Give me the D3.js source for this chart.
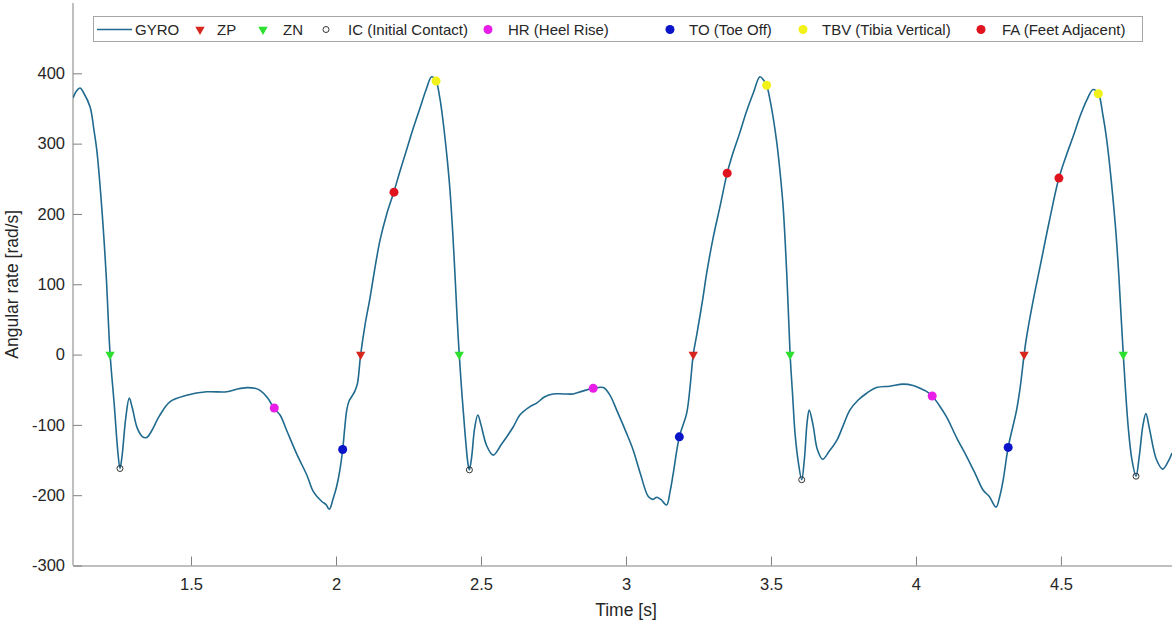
<!DOCTYPE html>
<html>
<head>
<meta charset="utf-8">
<script src="https://cdn.jsdelivr.net/npm/d3@7"></script>
<style>
body { margin: 0; background: #fff; }
svg text { font-family: "Liberation Sans", Arial, sans-serif; fill: #262626; }
</style>
</head>
<body>
<svg width="1172" height="621"></svg>
<script>
// Gyroscope angular rate with gait events

// gyro trace (time in s, rate in rad/s)
const time = [1.093, 1.105, 1.117, 1.13, 1.152, 1.165, 1.175, 1.192, 1.207, 1.221, 1.235, 1.248, 1.255, 1.262, 1.275, 1.287, 1.297, 1.315, 1.333, 1.347, 1.365, 1.39, 1.428, 1.485, 1.554, 1.623, 1.66, 1.692, 1.72, 1.738, 1.765, 1.787, 1.807, 1.83, 1.864, 1.9, 1.922, 1.951, 1.965, 1.977, 1.99, 2.002, 2.013, 2.023, 2.03, 2.037, 2.045, 2.054, 2.065, 2.074, 2.085, 2.1, 2.117, 2.135, 2.152, 2.175, 2.2, 2.22, 2.244, 2.265, 2.29, 2.31, 2.33, 2.345, 2.358, 2.37, 2.383, 2.393, 2.403, 2.41, 2.418, 2.425, 2.435, 2.445, 2.455, 2.46, 2.468, 2.478, 2.489, 2.5, 2.52, 2.542, 2.57, 2.611, 2.634, 2.669, 2.692, 2.72, 2.749, 2.785, 2.818, 2.85, 2.887, 2.922, 2.945, 2.968, 3.0, 3.025, 3.05, 3.077, 3.092, 3.106, 3.12, 3.14, 3.152, 3.163, 3.184, 3.209, 3.22, 3.232, 3.244, 3.264, 3.278, 3.3, 3.324, 3.349, 3.37, 3.393, 3.415, 3.439, 3.462, 3.475, 3.485, 3.5, 3.519, 3.53, 3.542, 3.555, 3.566, 3.575, 3.583, 3.595, 3.606, 3.615, 3.625, 3.632, 3.645, 3.66, 3.678, 3.7, 3.727, 3.75, 3.772, 3.8, 3.83, 3.864, 3.91, 3.956, 3.99, 4.014, 4.035, 4.056, 4.08, 4.106, 4.14, 4.175, 4.205, 4.232, 4.253, 4.276, 4.29, 4.301, 4.318, 4.347, 4.36, 4.373, 4.38, 4.402, 4.428, 4.46, 4.493, 4.52, 4.542, 4.565, 4.589, 4.611, 4.629, 4.645, 4.658, 4.687, 4.7, 4.715, 4.732, 4.745, 4.759, 4.77, 4.783, 4.793, 4.805, 4.83, 4.851, 4.87, 4.883]
const gyro = [365, 375, 379, 372, 352, 320, 291, 210, 116, 0, -70, -140, -162, -145, -90, -62, -75, -105, -117, -118, -108, -88, -67, -58, -53, -53, -49, -47, -48, -51, -62, -77, -86, -108, -141, -172, -195, -209, -213, -220, -205, -188, -165, -135, -105, -79, -66, -60, -52, -41, 0, 42, 80, 125, 163, 200, 232, 260, 292, 320, 351, 376, 395, 389, 365, 329, 280, 234, 170, 116, 50, 0, -60, -112, -155, -164, -145, -105, -86, -100, -130, -143, -128, -103, -86, -74, -69, -60, -56, -56, -56, -52, -48, -47, -58, -79, -110, -136, -170, -202, -206, -203, -206, -214, -195, -169, -117, -84, -50, 0, 28, 77, 115, 165, 210, 258, 288, 316, 345, 372, 395, 390, 383, 355, 305, 265, 210, 110, 0, -60, -112, -155, -178, -150, -95, -79, -100, -135, -149, -138, -122, -100, -79, -65, -55, -47, -45, -42, -44, -48, -52, -59, -72, -89, -118, -145, -170, -193, -202, -217, -200, -178, -132, -79, -45, 0, 21, 72, 125, 190, 251, 285, 310, 338, 362, 377, 371, 340, 305, 187, 110, 0, -103, -150, -173, -145, -100, -84, -105, -150, -163, -152, -140]

// gait events
const zpTime = [2.085, 3.232, 4.373]
const zpRate = [0, 0, 0]
const znTime = [1.221, 2.425, 3.566, 4.715]
const znRate = [0, 0, 0, 0]
const icTime = [1.255, 2.46, 3.606, 4.759]
const icRate = [-162, -164, -178, -173]
const hrTime = [1.787, 2.887, 4.056]
const hrRate = [-76, -48, -59]
const toTime = [2.023, 3.184, 4.318]
const toRate = [-135, -117, -132]
const tbvTime = [2.345, 3.485, 4.629]
const tbvRate = [389, 383, 371]
const faTime = [2.2, 3.349, 4.493]
const faRate = [231, 258, 251]

const xTicks = [1.5, 2, 2.5, 3, 3.5, 4, 4.5]
const yTicks = [-300, -200, -100, 0, 100, 200, 300, 400]
const legendLabels = ['GYRO', 'ZP', 'ZN', 'IC (Initial Contact)', 'HR (Heel Rise)', 'TO (Toe Off)', 'TBV (Tibia Vertical)', 'FA (Feet Adjacent)']

const margin = {top: 3, right: 0, bottom: 55.5, left: 73}
const svg = d3.select('svg')
const W = +svg.attr('width') - margin.left - margin.right
const H = +svg.attr('height') - margin.top - margin.bottom

const lineColor = '#1f6a8e'

var x = d3.scaleLinear().domain([1.093, 4.883]).range([0, W])
var y = d3.scaleLinear().domain([-300, 500]).range([H, 0])

var g = svg.append('g').attr('transform', 'translate(' + margin.left + ',' + margin.top + ')')

g.append('clipPath').attr('id', 'clip')
	.append('rect').attr('width', W).attr('height', H)

// plain hyphen for negatives, like matlab
function fmt(d) { return String(d) }

// axes, ticks point inwards like matlab
var xAxis = g.append('g').attr('transform', 'translate(0,' + H + ')')
	.call(d3.axisBottom(x).tickValues(xTicks).tickFormat(fmt)
		.tickSizeInner(-9).tickSizeOuter(0).tickPadding(13))
var yAxis = g.append('g')
	.call(d3.axisLeft(y).tickValues(yTicks).tickFormat(fmt)
		.tickSizeInner(-9).tickSizeOuter(0).tickPadding(8))
// y axis line runs to the top of the frame
yAxis.select('.domain').attr('d', 'M0,' + H + 'V0')

svg.selectAll('.domain, .tick line').attr('stroke', '#808080').attr('stroke-width', 1)
svg.selectAll('.tick text').attr('font-size', '16.5px').attr('fill', '#262626')
	.attr('font-family', '"Liberation Sans", Arial, sans-serif')

g.append('text').attr('x', x(3)).attr('y', H + 50)
	.attr('text-anchor', 'middle').attr('font-size', '17.5px')
	.text('Time [s]')
g.append('text').attr('transform', 'translate(' + (-55) + ',' + (H / 2) + ') rotate(-90)')
	.attr('text-anchor', 'middle').attr('font-size', '17.5px')
	.text('Angular rate [rad/s]')

// the trace
var series = time.map(function(t, i) { return {x: t, y: gyro[i]} })
var line = d3.line()
	.x(function(d) { return x(d.x) })
	.y(function(d) { return y(d.y) })
	.curve(d3.curveCatmullRom.alpha(0.5))

g.append('path').datum(series)
	.attr('clip-path', 'url(#clip)')
	.attr('fill', 'none')
	.attr('stroke', lineColor)
	.attr('stroke-width', 1.6)
	.attr('d', line)

function pts(ts, vs) { return ts.map(function(t, i) { return {x: t, y: vs[i]} }) }

var tri = d3.symbol().type(d3.symbolTriangle).size(38)

function triangles(data, color) {
	g.append('g').selectAll('path').data(data).enter().append('path')
		.attr('d', tri)
		.attr('transform', function(d) { return 'translate(' + x(d.x) + ',' + y(d.y) + ') rotate(180)' })
		.attr('fill', color)
}
function dots(data, color) {
	g.append('g').selectAll('circle').data(data).enter().append('circle')
		.attr('cx', function(d) { return x(d.x) })
		.attr('cy', function(d) { return y(d.y) })
		.attr('r', 4.5)
		.attr('fill', color)
}

triangles(pts(zpTime, zpRate), '#d7261e')
triangles(pts(znTime, znRate), '#2ee02e')
g.append('g').selectAll('circle').data(pts(icTime, icRate)).enter().append('circle')
	.attr('cx', function(d) { return x(d.x) })
	.attr('cy', function(d) { return y(d.y) })
	.attr('r', 3)
	.attr('fill', 'none')
	.attr('stroke', '#333')
	.attr('stroke-width', 1)
dots(pts(hrTime, hrRate), '#e81ee8')
dots(pts(toTime, toRate), '#0a14c8')
dots(pts(tbvTime, tbvRate), '#f2f21a')
dots(pts(faTime, faRate), '#e0141e')

// legend (single row, matlab style)
var legend = svg.append('g')
legend.append('rect')
	.attr('x', 93.5).attr('y', 16.5).attr('width', 1049).attr('height', 25)
	.attr('fill', '#fff').attr('stroke', '#a6a6a6').attr('stroke-width', 1)

var iconX = [97, 200, 263, 326, 488, 670, 803, 981]
var textX = [135, 217, 283, 348, 508, 689, 822, 1002]
var ly = 29.5

legend.append('line').attr('x1', iconX[0]).attr('x2', 132).attr('y1', ly).attr('y2', ly)
	.attr('stroke', lineColor).attr('stroke-width', 1.6)
legend.append('path').attr('d', tri).attr('transform', 'translate(' + iconX[1] + ',' + ly + ') rotate(180)').attr('fill', '#d7261e')
legend.append('path').attr('d', tri).attr('transform', 'translate(' + iconX[2] + ',' + ly + ') rotate(180)').attr('fill', '#2ee02e')
legend.append('circle').attr('cx', iconX[3]).attr('cy', ly).attr('r', 3)
	.attr('fill', 'none').attr('stroke', '#333').attr('stroke-width', 1)
var dotColors = ['#e81ee8', '#0a14c8', '#f2f21a', '#e0141e']
dotColors.forEach(function(c, i) {
	legend.append('circle').attr('cx', iconX[4 + i]).attr('cy', ly).attr('r', 4.5).attr('fill', c)
})

legend.selectAll('text.lab').data(legendLabels).enter().append('text')
	.attr('class', 'lab')
	.attr('x', function(d, i) { return textX[i] })
	.attr('y', ly + 5.5)
	.attr('font-size', '15px')
	.text(function(d) { return d })
</script>
</body>
</html>
